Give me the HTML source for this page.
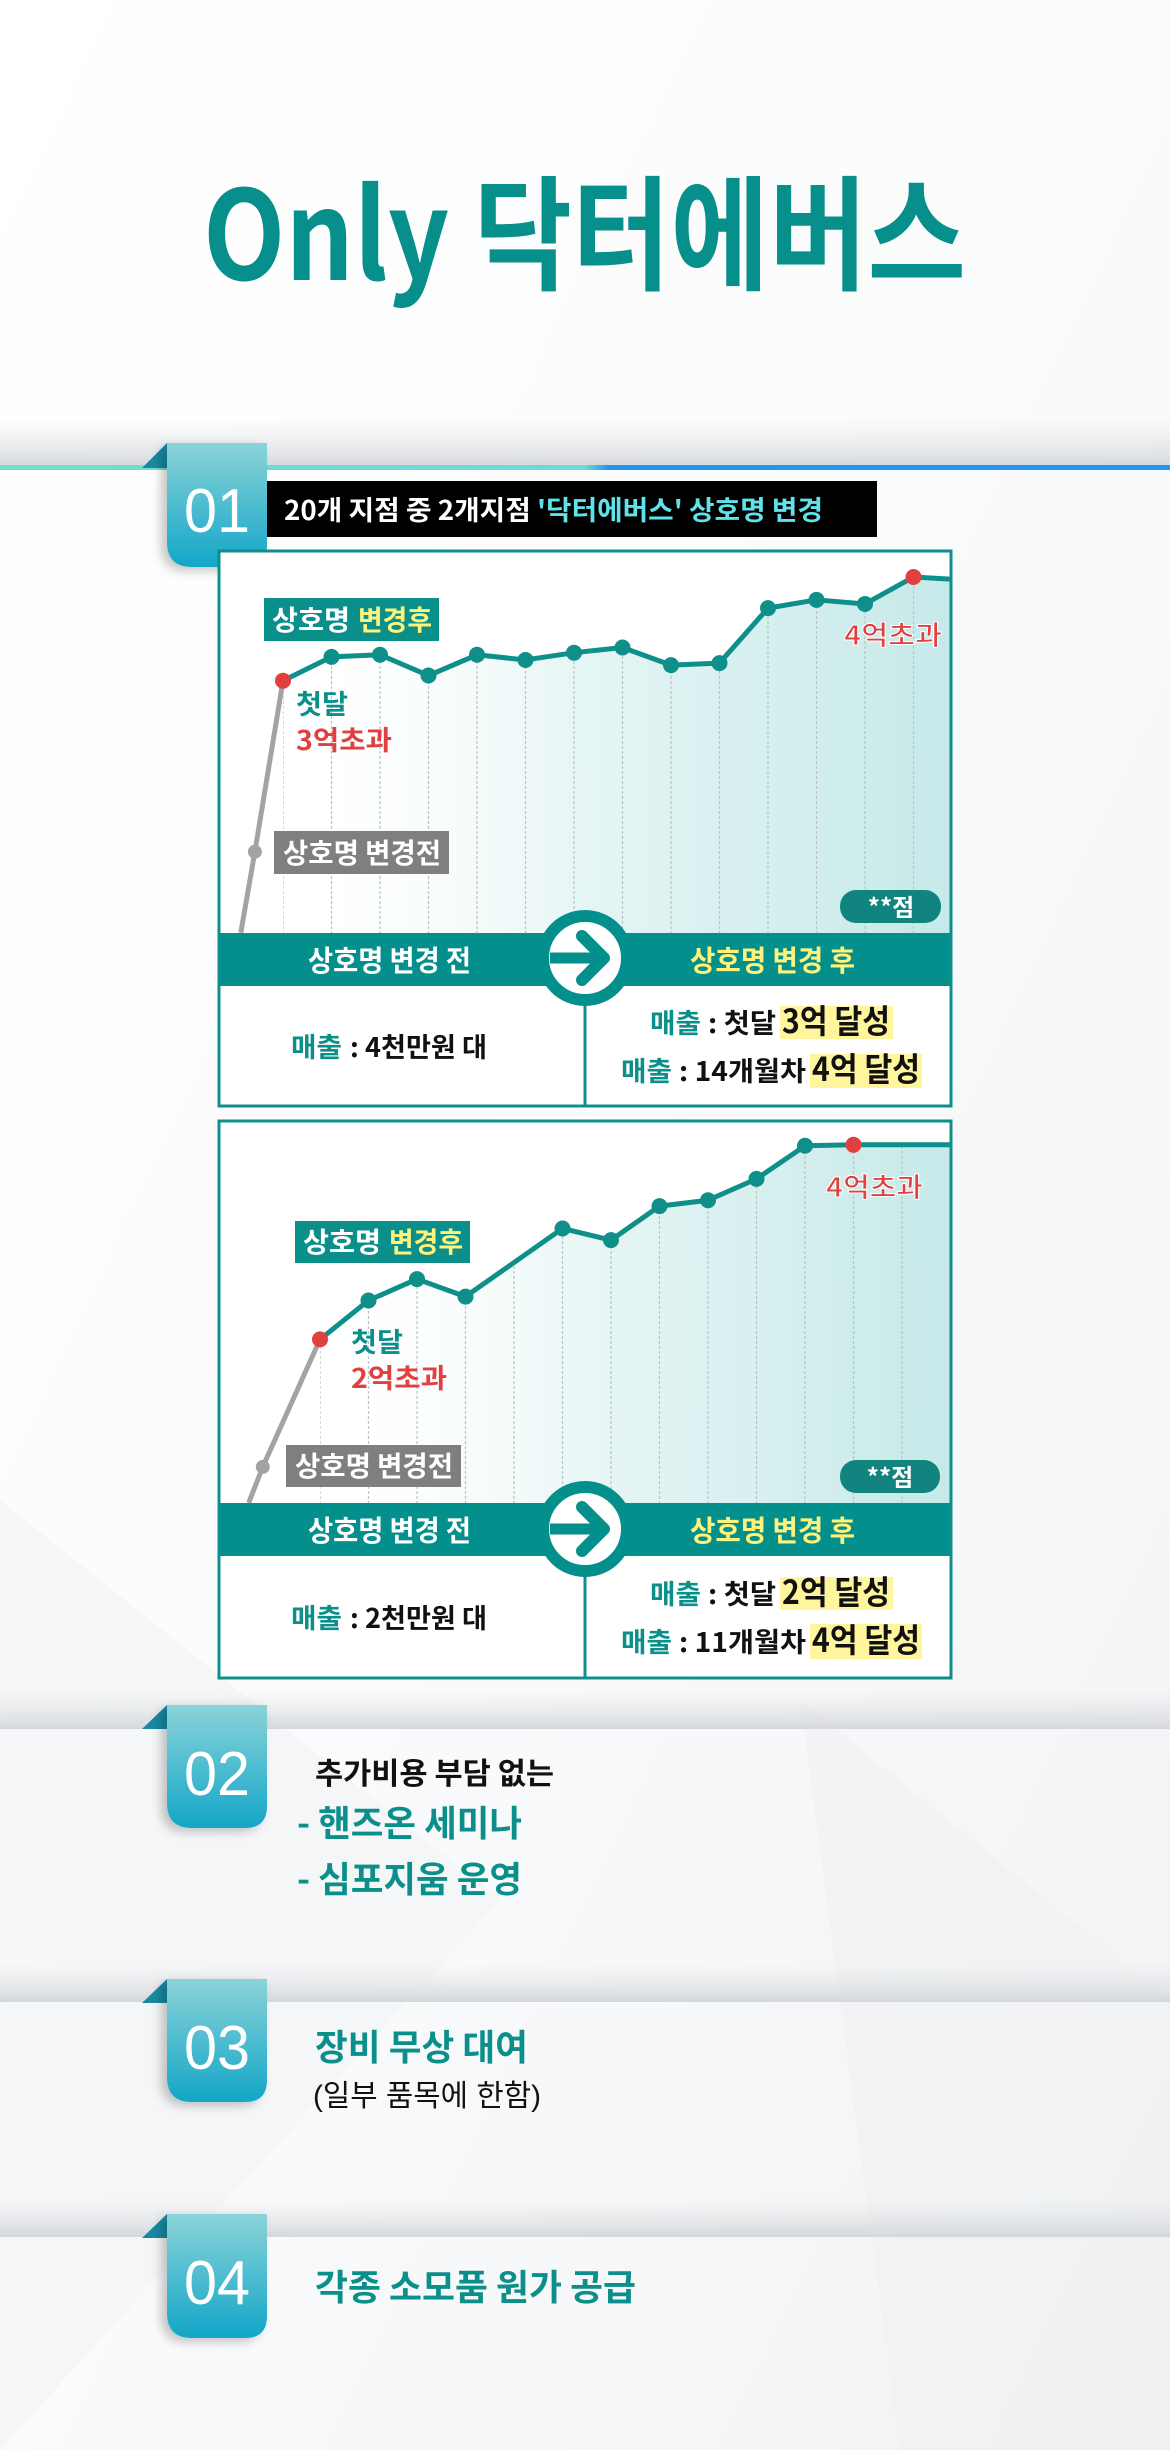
<!DOCTYPE html>
<html><head><meta charset="utf-8"><style>
html,body{margin:0;padding:0;background:#f7f8f9;}
svg{display:block;}
text{font-family:"Liberation Sans","Noto Sans CJK KR",sans-serif;}
.k{font-family:"Noto Sans CJK KR","Liberation Sans",sans-serif;font-weight:700;}
</style></head><body>
<svg id="page" width="1170" height="2450" viewBox="0 0 1170 2450" xmlns="http://www.w3.org/2000/svg">
<defs>
<linearGradient id="bgG" x1="0" y1="0" x2="1" y2="1"><stop offset="0" stop-color="#ffffff"/><stop offset="0.5" stop-color="#fafbfc"/><stop offset="1" stop-color="#f1f2f4"/></linearGradient>
<linearGradient id="bandLine" x1="0" x2="1"><stop offset="0" stop-color="#6fe0cf"/><stop offset="0.5" stop-color="#6fd8d8"/><stop offset="0.52" stop-color="#2196f3"/><stop offset="1" stop-color="#2196f3"/></linearGradient>
<linearGradient id="shadowG" x1="0" y1="0" x2="0" y2="1"><stop offset="0" stop-color="#e4e6e8" stop-opacity="0"/><stop offset="1" stop-color="#d5d8db"/></linearGradient>
<linearGradient id="badgeG" x1="0" y1="0" x2="0" y2="1"><stop offset="0" stop-color="#8ad3d8"/><stop offset="1" stop-color="#13a6c8"/></linearGradient>
<linearGradient id="areaG" x1="0" x2="1"><stop offset="0" stop-color="#ffffff" stop-opacity="0"/><stop offset="0.45" stop-color="#e6f5f5"/><stop offset="1" stop-color="#c6e9e9"/></linearGradient>
<filter id="bsh" x="-30%" y="-10%" width="140%" height="130%"><feDropShadow dx="-6" dy="4" stdDeviation="5" flood-color="#000" flood-opacity="0.22"/></filter>
<clipPath id="clip1"><rect x="219" y="551" width="732" height="382"/></clipPath>
<clipPath id="clip2"><rect x="219" y="1121" width="732" height="382"/></clipPath>
</defs>
<rect width="1170" height="2450" fill="url(#bgG)"/>
<polygon points="0,1500 500,1900 0,2450" fill="#f2f3f5" opacity="0.6"/>
<polygon points="800,1700 1170,2000 1170,2450 900,2450" fill="#eef0f2" opacity="0.5"/>

<text class="k" x="203" y="280" font-size="124" fill="#078f8c" textLength="763" lengthAdjust="spacingAndGlyphs">Only 닥터에버스</text>

<!-- Section 01 -->
<rect x="0" y="418" width="1170" height="49" fill="url(#shadowG)"/>
<rect x="0" y="465" width="1170" height="5" fill="url(#bandLine)"/>
<g>
<polygon points="142,468 167,443 167,468" fill="#178aa0"/>
<path d="M167,443 H267 V545 Q267,567 245,567 H192 Q167,567 167,542 Z" fill="url(#badgeG)" filter="url(#bsh)"/>
<text x="217" y="532" font-size="62" fill="#fff" text-anchor="middle" textLength="66" lengthAdjust="spacingAndGlyphs">01</text>
</g>
<rect x="267" y="481" width="610" height="56" fill="#000"/>
<text class="k" x="284" y="520" font-size="27" fill="#fff" textLength="539" lengthAdjust="spacingAndGlyphs">20개 지점 중 2개지점 <tspan fill="#5fe3ea">'닥터에버스' 상호명 변경</tspan></text>

<!-- Chart 1 -->
<g id="chart1">
<rect x="219" y="551" width="732" height="555" fill="#fff"/>
<g id="c1marks" clip-path="url(#clip1)"></g>
<rect x="219" y="933" width="732" height="53" fill="#038f8b"/>
<line x1="585" y1="986" x2="585" y2="1106" stroke="#0f8f8c" stroke-width="3"/>
<rect x="219" y="551" width="732" height="555" fill="none" stroke="#0f8f8c" stroke-width="3"/>
<text class="k" x="308" y="971" font-size="29" fill="#fff" textLength="163" lengthAdjust="spacingAndGlyphs">상호명 변경 전</text>
<text class="k" x="690" y="971" font-size="29" fill="#fff27a" textLength="165" lengthAdjust="spacingAndGlyphs">상호명 변경 후</text>
<g>
<circle cx="585" cy="958" r="42" fill="#fff" stroke="#038f8b" stroke-width="12"/>
<line x1="550" y1="958" x2="596" y2="958" stroke="#038f8b" stroke-width="11"/>
<polyline points="582,936 604,958 582,980" fill="none" stroke="#038f8b" stroke-width="12" stroke-linecap="round" stroke-linejoin="round"/>
</g>
<rect x="264" y="598" width="175" height="43" fill="#0a8f8b"/>
<text class="k" x="272" y="630" font-size="28" fill="#fff"><tspan textLength="78" lengthAdjust="spacingAndGlyphs">상호명</tspan><tspan x="358" fill="#fff27a" textLength="74" lengthAdjust="spacingAndGlyphs">변경후</tspan></text>
<text class="k" x="296" y="714" font-size="27" fill="#0a8f8b" textLength="52" lengthAdjust="spacingAndGlyphs">첫달</text>
<text class="k" x="296" y="750" font-size="27" fill="#e0403f" textLength="96" lengthAdjust="spacingAndGlyphs">3억초과</text>
<rect x="274" y="831" width="175" height="43" fill="#7f7f7f"/>
<text class="k" x="283" y="863" font-size="28" fill="#fff" textLength="158" lengthAdjust="spacingAndGlyphs">상호명 변경전</text>
<text class="k" x="844" y="645" font-size="27" fill="#e0403f" stroke="#fff" stroke-width="1" textLength="98" lengthAdjust="spacingAndGlyphs">4억초과</text>
<rect x="840" y="890" width="101" height="33" rx="16" fill="#11847f"/>
<text class="k" x="891" y="916" font-size="24" fill="#fff" text-anchor="middle">**점</text>
<text class="k" y="1057" font-size="27"><tspan x="291" fill="#0a8f8b" textLength="51" lengthAdjust="spacingAndGlyphs">매출</tspan><tspan x="350" fill="#111" textLength="137" lengthAdjust="spacingAndGlyphs">: 4천만원 대</tspan></text>
<rect x="780" y="1006" width="113" height="33" fill="#fff59d"/>
<rect x="810" y="1054" width="112" height="34" fill="#fff59d"/>
<text class="k" y="1033" font-size="27"><tspan x="650" fill="#0a8f8b" textLength="51" lengthAdjust="spacingAndGlyphs">매출</tspan><tspan x="708" fill="#111" textLength="68" lengthAdjust="spacingAndGlyphs">: 첫달</tspan><tspan x="782" fill="#111" font-size="33" textLength="108" lengthAdjust="spacingAndGlyphs">3억 달성</tspan></text>
<text class="k" y="1081" font-size="27"><tspan x="621" fill="#0a8f8b" textLength="51" lengthAdjust="spacingAndGlyphs">매출</tspan><tspan x="679" fill="#111" textLength="127" lengthAdjust="spacingAndGlyphs">: 14개월차</tspan><tspan x="812" fill="#111" font-size="33" textLength="108" lengthAdjust="spacingAndGlyphs">4억 달성</tspan></text>
</g>

<!-- Chart 2 -->
<g id="chart2">
<rect x="219" y="1121" width="732" height="557" fill="#fff"/>
<g id="c2marks" clip-path="url(#clip2)"></g>
<rect x="219" y="1503" width="732" height="53" fill="#038f8b"/>
<line x1="585" y1="1556" x2="585" y2="1678" stroke="#0f8f8c" stroke-width="3"/>
<rect x="219" y="1121" width="732" height="557" fill="none" stroke="#0f8f8c" stroke-width="3"/>
<text class="k" x="308" y="1541" font-size="29" fill="#fff" textLength="163" lengthAdjust="spacingAndGlyphs">상호명 변경 전</text>
<text class="k" x="690" y="1541" font-size="29" fill="#fff27a" textLength="165" lengthAdjust="spacingAndGlyphs">상호명 변경 후</text>
<g>
<circle cx="585" cy="1529" r="42" fill="#fff" stroke="#038f8b" stroke-width="12"/>
<line x1="550" y1="1529" x2="596" y2="1529" stroke="#038f8b" stroke-width="11"/>
<polyline points="582,1507 604,1529 582,1551" fill="none" stroke="#038f8b" stroke-width="12" stroke-linecap="round" stroke-linejoin="round"/>
</g>
<rect x="295" y="1221" width="175" height="42" fill="#0a8f8b"/>
<text class="k" x="303" y="1252" font-size="28" fill="#fff"><tspan textLength="78" lengthAdjust="spacingAndGlyphs">상호명</tspan><tspan x="389" fill="#fff27a" textLength="74" lengthAdjust="spacingAndGlyphs">변경후</tspan></text>
<text class="k" x="351" y="1352" font-size="27" fill="#0a8f8b" textLength="52" lengthAdjust="spacingAndGlyphs">첫달</text>
<text class="k" x="351" y="1388" font-size="27" fill="#e0403f" textLength="96" lengthAdjust="spacingAndGlyphs">2억초과</text>
<rect x="286" y="1445" width="175" height="42" fill="#7f7f7f"/>
<text class="k" x="295" y="1476" font-size="28" fill="#fff" textLength="158" lengthAdjust="spacingAndGlyphs">상호명 변경전</text>
<text class="k" x="826" y="1197" font-size="27" fill="#e0403f" stroke="#fff" stroke-width="1" textLength="97" lengthAdjust="spacingAndGlyphs">4억초과</text>
<rect x="840" y="1460" width="100" height="33" rx="16" fill="#11847f"/>
<text class="k" x="890" y="1486" font-size="24" fill="#fff" text-anchor="middle">**점</text>
<text class="k" y="1628" font-size="27"><tspan x="291" fill="#0a8f8b" textLength="51" lengthAdjust="spacingAndGlyphs">매출</tspan><tspan x="350" fill="#111" textLength="137" lengthAdjust="spacingAndGlyphs">: 2천만원 대</tspan></text>
<rect x="780" y="1577" width="113" height="33" fill="#fff59d"/>
<rect x="810" y="1624" width="112" height="35" fill="#fff59d"/>
<text class="k" y="1604" font-size="27"><tspan x="650" fill="#0a8f8b" textLength="51" lengthAdjust="spacingAndGlyphs">매출</tspan><tspan x="708" fill="#111" textLength="68" lengthAdjust="spacingAndGlyphs">: 첫달</tspan><tspan x="782" fill="#111" font-size="33" textLength="108" lengthAdjust="spacingAndGlyphs">2억 달성</tspan></text>
<text class="k" y="1652" font-size="27"><tspan x="621" fill="#0a8f8b" textLength="51" lengthAdjust="spacingAndGlyphs">매출</tspan><tspan x="679" fill="#111" textLength="127" lengthAdjust="spacingAndGlyphs">: 11개월차</tspan><tspan x="812" fill="#111" font-size="33" textLength="108" lengthAdjust="spacingAndGlyphs">4억 달성</tspan></text>
</g>

<!-- Section 02 -->
<rect x="0" y="1690" width="1170" height="39" fill="url(#shadowG)"/>
<g>
<polygon points="142,1729 167,1705 167,1729" fill="#178aa0"/>
<path d="M167,1705 H267 V1806 Q267,1828 245,1828 H192 Q167,1828 167,1803 Z" fill="url(#badgeG)" filter="url(#bsh)"/>
<text x="217" y="1795" font-size="62" fill="#fff" text-anchor="middle" textLength="66" lengthAdjust="spacingAndGlyphs">02</text>
</g>
<text class="k" x="315" y="1784" font-size="30" fill="#111" textLength="239" lengthAdjust="spacingAndGlyphs">추가비용 부담 없는</text>
<text class="k" x="297" y="1836" font-size="36" fill="#0a8f8b" textLength="225" lengthAdjust="spacingAndGlyphs">- 핸즈온 세미나</text>
<text class="k" x="297" y="1892" font-size="36" fill="#0a8f8b" textLength="225" lengthAdjust="spacingAndGlyphs">- 심포지움 운영</text>

<!-- Section 03 -->
<rect x="0" y="1963" width="1170" height="39" fill="url(#shadowG)"/>
<g>
<polygon points="142,2003 167,1979 167,2003" fill="#178aa0"/>
<path d="M167,1979 H267 V2080 Q267,2102 245,2102 H192 Q167,2102 167,2077 Z" fill="url(#badgeG)" filter="url(#bsh)"/>
<text x="217" y="2069" font-size="62" fill="#fff" text-anchor="middle" textLength="66" lengthAdjust="spacingAndGlyphs">03</text>
</g>
<text class="k" x="315" y="2060" font-size="36" fill="#0a8f8b" textLength="213" lengthAdjust="spacingAndGlyphs">장비 무상 대여</text>
<text x="313" y="2106" font-size="30" fill="#111" font-family="Noto Sans CJK KR, sans-serif" textLength="228" lengthAdjust="spacingAndGlyphs">(일부 품목에 한함)</text>

<!-- Section 04 -->
<rect x="0" y="2198" width="1170" height="39" fill="url(#shadowG)"/>
<g>
<polygon points="142,2238 167,2214 167,2238" fill="#178aa0"/>
<path d="M167,2214 H267 V2316 Q267,2338 245,2338 H192 Q167,2338 167,2313 Z" fill="url(#badgeG)" filter="url(#bsh)"/>
<text x="217" y="2304" font-size="62" fill="#fff" text-anchor="middle" textLength="66" lengthAdjust="spacingAndGlyphs">04</text>
</g>
<text class="k" x="315" y="2300" font-size="36" fill="#0a8f8b" textLength="321" lengthAdjust="spacingAndGlyphs">각종 소모품 원가 공급</text>
</svg>
<script>
// Chart 1 data (values in 억원, months since rename)
const c1PreMonths = [-0.87, -0.58];
const c1PreValues = [0.57, 1.35];
const c1Months = [0,1,2,3,4,5,6,7,8,9,10,11,12,13,13.75];
const c1Values = [3.0,3.23,3.25,3.05,3.25,3.20,3.27,3.32,3.15,3.17,3.70,3.78,3.74,4.0,3.98];
const c1RedMonths = [0, 13];
const c1GridMonths = [0,1,2,3,4,5,6,7,8,9,10,11,12,13];
// Chart 2 data
const c2PreMonths = [-1.47, -1.18];
const c2PreValues = [0.32, 0.69];
const c2Months = [0,1,2,3,5,6,7,8,9,10,11,13];
const c2Values = [2.0,2.40,2.62,2.44,3.14,3.02,3.37,3.43,3.65,3.99,4.0,4.0];
const c2RedMonths = [0, 11];
const c2GridMonths = [0,1,2,3,4,5,6,7,8,9,10,11,12];

const NS = 'http://www.w3.org/2000/svg';
function mk(tag, attrs, parent){const e=document.createElementNS(NS,tag);for(const k in attrs)e.setAttribute(k,attrs[k]);parent.appendChild(e);return e;}

function drawChart(gid, cfg, preM, preV, months, values, redM, gridM, id){
  const g = document.getElementById(gid);
  const xs = m => cfg.x0 + m*cfg.step;
  const ys = v => cfg.y0 - v*cfg.k;
  const pts = months.map((m,i)=>[xs(m), ys(values[i])]);
  const areaPts = pts.map(p=>p.join(',')).join(' ') + ' ' + cfg.right+','+cfg.base+' '+pts[0][0]+','+cfg.base;
  const area = mk('polygon',{points:areaPts, fill:'url(#areaG)'}, g);
  
  
  const cp = mk('clipPath',{id:id+'-areaclip'}, g);
  mk('polygon',{points:areaPts}, cp);
  const gridG = mk('g',{'clip-path':'url(#'+id+'-areaclip)'}, g);
  gridM.forEach(m=>{
    const l = mk('line',{x1:xs(m),x2:xs(m),y1:cfg.top,y2:cfg.base,stroke:'#b9c4c4','stroke-width':1.2,'stroke-dasharray':'3 2'}, gridG);
    
    
  });
  const grayPts = preM.map((m,i)=>[xs(m), ys(preV[i])]).concat([pts[0]]);
  const gl = mk('polyline',{points:grayPts.map(p=>p.join(',')).join(' '),fill:'none',stroke:'#a3a3a3','stroke-width':5}, g);
  
  
  const line = mk('polyline',{points:pts.map(p=>p.join(',')).join(' '),fill:'none',stroke:'#0e8f8a','stroke-width':5,'stroke-linejoin':'round'}, g);
  
  
  preM.slice(1).forEach((m,i)=>{
    const c = mk('circle',{cx:xs(m),cy:ys(preV[i+1]),r:7,fill:'#a3a3a3'}, g);
    
    
  });
  months.forEach((m,i)=>{
    if (m % 1 !== 0 || i === months.length-1) return;
    const red = redM.indexOf(m) >= 0;
    const c = mk('circle',{cx:xs(m),cy:ys(values[i]),r:8,fill:red?'#e0403f':'#0e8f8a'}, g);
    
    
  });
}
drawChart('c1marks',{x0:283,step:48.5,y0:991.8,k:103.7,top:551,base:933,right:951}, c1PreMonths,c1PreValues,c1Months,c1Values,c1RedMonths,c1GridMonths,'chart1');
drawChart('c2marks',{x0:320,step:48.5,y0:1534,k:97.3,top:1121,base:1503,right:951}, c2PreMonths,c2PreValues,c2Months,c2Values,c2RedMonths,c2GridMonths,'chart2');
</script>
</body></html>
